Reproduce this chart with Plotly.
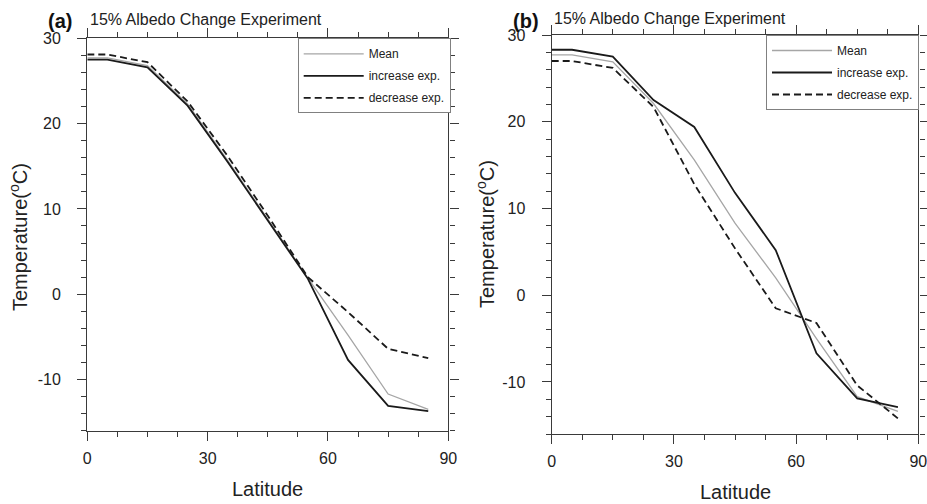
import plotly.graph_objects as go

# ---------------- data ----------------
lat = [0, 5, 15, 25, 35, 45, 55, 65, 75, 85]

a_mean = [27.7, 27.7, 26.8, 22.3, 15.7, 8.8, 1.9, -4.8, -11.7, -13.5]
a_inc = [27.5, 27.5, 26.6, 22.1, 15.5, 8.6, 1.8, -7.7, -13.1, -13.7]
a_dec = [28.1, 28.1, 27.2, 22.6, 16.2, 9.2, 2.0, -2.1, -6.4, -7.5]

b_mean = [27.7, 27.7, 26.9, 22.1, 15.6, 8.3, 2.0, -5.0, -11.7, -13.4]
b_inc = [28.3, 28.3, 27.5, 22.5, 19.4, 11.8, 5.2, -6.7, -11.9, -12.9]
b_dec = [27.0, 27.0, 26.2, 21.7, 12.8, 5.4, -1.5, -3.2, -10.4, -14.2]

series_names = ["Mean", "increase exp.", "decrease exp."]
x_ticks = [0, 30, 60, 90]
x_ticktext = ["0", "30", "60", "90"]
y_ticks = [-10, 0, 10, 20, 30]
y_ticktext = ["-10", "0", "10", "20", "30"]
panel_labels = ["(a)", "(b)"]
panel_title = "15% Albedo Change Experiment"

# ---------------- styling ----------------
FONT = "Liberation Sans, Arial, Helvetica, sans-serif"
AX = "#3a3a3a"
styles = [
    dict(color="#a6a6a6", width=1.3, dash="solid"),
    dict(color="#1a1a1a", width=1.8, dash="solid"),
    dict(color="#1a1a1a", width=1.8, dash="7px,4px"),
]

W, H = 927, 504


def px(xp):
    return xp / W


def py(yp):
    return 1 - yp / H


fig = go.Figure()

panels = [
    dict(data=[a_mean, a_inc, a_dec], xd=[87.3, 448.3], yd=[38.3, 430.7], leg="legend",
         xa="x", ya="y", legx=297.7, legy=38.3),
    dict(data=[b_mean, b_inc, b_dec], xd=[551.7, 918.3], yd=[35.0, 434.0], leg="legend2",
         xa="x2", ya="y2", legx=766.0, legy=35.0),
]

for p in panels:
    for name, vals, st in zip(series_names, p["data"], styles):
        fig.add_trace(go.Scatter(
            x=lat, y=vals, mode="lines", name=name,
            line=dict(color=st["color"], width=st["width"], dash=st["dash"]),
            xaxis=p["xa"], yaxis=p["ya"], legend=p["leg"], legendgroup=p["leg"] + name,
        ))


def axis_common():
    return dict(
        showline=True, linecolor=AX, linewidth=1.4, mirror="allticks",
        ticks="outside", ticklen=9, tickwidth=1.4, tickcolor=AX,
        showgrid=False, zeroline=False, automargin=False,
        ticklabeloverflow="allow",
        tickfont=dict(family=FONT, size=16, color="#222"),
    )


layout = dict(
    width=W, height=H, margin=dict(l=0, r=0, t=0, b=0, pad=0, autoexpand=False),
    paper_bgcolor="white", plot_bgcolor="white",
    font=dict(family=FONT, color="#222"),
    showlegend=True,
)

for i, p in enumerate(panels):
    sfx = "" if i == 0 else "2"
    xd = [px(p["xd"][0]), px(p["xd"][1])]
    yd = [py(p["yd"][1]), py(p["yd"][0])]
    xa = axis_common()
    xa.update(domain=xd, range=[0, 90], tickvals=x_ticks, ticktext=x_ticktext,
              anchor="y" + sfx, ticklabelstandoff=4,
              minor=dict(dtick=7.5, tick0=0, ticks="outside", ticklen=5, tickwidth=1.2, tickcolor=AX))
    ya = axis_common()
    ya.update(domain=yd, range=[-16, 30], tickvals=y_ticks, ticktext=y_ticktext,
              anchor="x" + sfx, ticklabelstandoff=13,
              minor=dict(dtick=2, tick0=0, ticks="outside", ticklen=5, tickwidth=1.2, tickcolor=AX))
    layout["xaxis" + sfx] = xa
    layout["yaxis" + sfx] = ya
    layout[p["leg"]] = dict(
        x=px(p["legx"]), y=py(p["legy"]), xanchor="left", yanchor="top",
        bgcolor="white", bordercolor="#808080", borderwidth=1,
        font=dict(family=FONT, size=12, color="#222"),
        itemwidth=60, tracegroupgap=3, traceorder="grouped",
    )

fig.update_layout(**layout)

ann = []
# panel labels and titles
for lab, lx, tx, ty in [(panel_labels[0], 46, 87.5, 19.5), (panel_labels[1], 511, 551.7, 19)]:
    ann.append(dict(text="<b>%s</b>" % lab, x=px(lx), y=py(21.5), xref="paper", yref="paper",
                    xanchor="left", yanchor="middle", showarrow=False,
                    font=dict(family=FONT, size=20, color="#111")))
    ann.append(dict(text=panel_title, x=px(tx), y=py(ty), xref="paper", yref="paper",
                    xanchor="left", yanchor="middle", showarrow=False,
                    font=dict(family=FONT, size=16, color="#222")))
# axis titles
for cx, cy in [(267.5, 489), (735, 492)]:
    ann.append(dict(text="Latitude", x=px(cx), y=py(cy), xref="paper", yref="paper",
                    xanchor="center", yanchor="middle", showarrow=False,
                    font=dict(family=FONT, size=20, color="#222")))
for cx, cy in [(18, 237), (485, 234)]:
    ann.append(dict(text="Temperature(<sup>o</sup>C)", x=px(cx), y=py(cy), xref="paper", yref="paper",
                    xanchor="center", yanchor="middle", showarrow=False, textangle=-90,
                    font=dict(family=FONT, size=20, color="#222")))
fig.update_layout(annotations=ann)

fig.write_html(
    "out.html",
    config={"displayModeBar": False},
    post_script="document.body.style.margin='0';document.body.style.overflow='hidden';",
)
